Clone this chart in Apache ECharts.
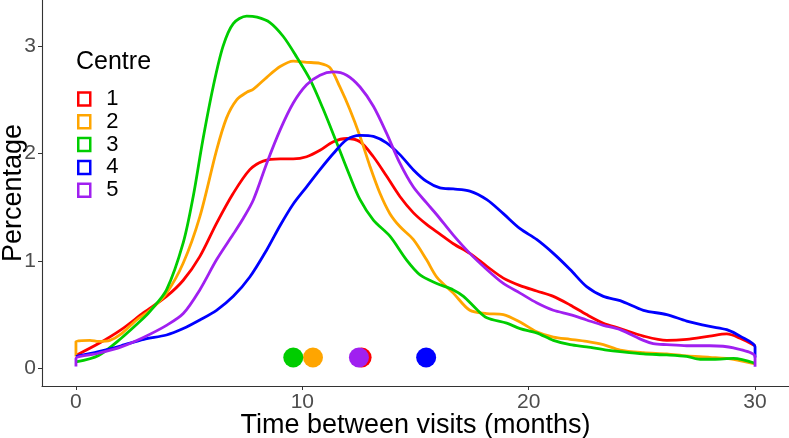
<!DOCTYPE html>
<html>
<head>
<meta charset="utf-8">
<script src="https://cdn.jsdelivr.net/npm/echarts@6.0.0/dist/echarts.min.js"></script>
<style>
html,body{margin:0;padding:0;background:#fff;}
#chart{width:789px;height:438px;}
</style>
</head>
<body>
<div id="chart"></div>
<script>
// ---- data ----
const centres = ['1', '2', '3', '4', '5'];
const colours = ['#FF0000', '#FFA500', '#00CD00', '#0000FF', '#A020F0'];

const x1 = [0, 1, 2, 3, 4, 4.74, 5.47, 6.21, 6.95, 7.68, 8.27, 9.02, 9.6, 10.19, 10.78, 11.37, 11.96, 12.55, 13.14, 13.72, 14.31, 14.9, 15.49, 16.08, 16.67, 17.4, 18.15, 18.88, 19.62, 20.35, 21.09, 21.83, 22.56, 23.3, 24.04, 25.07, 26.1, 26.98, 28.0, 28.75, 29.34, 30];
const y1 = [0.12, 0.23, 0.36, 0.52, 0.67, 0.82, 1.04, 1.35, 1.63, 1.85, 1.93, 1.95, 1.95, 1.97, 2.03, 2.11, 2.14, 2.11, 1.97, 1.79, 1.6, 1.45, 1.34, 1.25, 1.16, 1.07, 0.95, 0.84, 0.77, 0.72, 0.67, 0.59, 0.5, 0.42, 0.37, 0.3, 0.26, 0.27, 0.3, 0.32, 0.28, 0.21];

const x2 = [0, 0, 0.62, 1, 1.5, 2, 2.68, 3.27, 4, 4.74, 5.47, 6.21, 6.65, 7.1, 7.54, 7.84, 8.43, 9.02, 9.6, 10.19, 10.78, 11.22, 11.66, 12.1, 12.55, 12.99, 13.43, 13.87, 14.31, 14.9, 15.49, 15.94, 16.67, 17.4, 18.15, 18.88, 19.62, 20.35, 21.09, 21.83, 22.56, 23.3, 24.04, 25.07, 26.1, 26.98, 28.0, 29.05, 30];
const y2 = [0.11, 0.25, 0.26, 0.25, 0.26, 0.32, 0.45, 0.54, 0.7, 0.98, 1.41, 2.03, 2.33, 2.5, 2.57, 2.6, 2.71, 2.81, 2.86, 2.85, 2.84, 2.8, 2.62, 2.41, 2.16, 1.88, 1.63, 1.44, 1.32, 1.2, 1.01, 0.85, 0.7, 0.54, 0.51, 0.5, 0.43, 0.34, 0.29, 0.27, 0.25, 0.22, 0.17, 0.146, 0.134, 0.115, 0.102, 0.084, 0.04];

const x3 = [0, 1, 2, 3, 3.27, 4, 4.74, 5.18, 5.6, 6.06, 6.5, 6.95, 7.54, 8.0, 8.57, 9.16, 9.75, 10.34, 10.93, 11.52, 12.1, 12.55, 13.14, 13.87, 14.6, 15.2, 15.94, 16.67, 17.12, 17.7, 18.15, 19.03, 19.62, 20.35, 21.09, 21.83, 22.56, 23.45, 24.04, 25.07, 26.1, 26.98, 27.57, 28.16, 29.05, 30];
const y3 = [0.06, 0.12, 0.28, 0.47, 0.53, 0.73, 1.17, 1.6, 2.12, 2.62, 3.0, 3.21, 3.28, 3.27, 3.22, 3.09, 2.9, 2.69, 2.41, 2.1, 1.79, 1.57, 1.38, 1.23, 1.01, 0.87, 0.79, 0.73, 0.67, 0.55, 0.47, 0.42, 0.37, 0.33, 0.26, 0.22, 0.2, 0.17, 0.155, 0.134, 0.124, 0.11, 0.084, 0.084, 0.093, 0.047];

const x4 = [0, 1, 2, 3, 4, 4.74, 5.47, 6.21, 6.95, 7.68, 8.42, 9.02, 9.6, 10.19, 10.78, 11.37, 11.96, 12.55, 13.14, 13.72, 14.31, 14.9, 15.49, 16.08, 16.67, 17.4, 18.15, 18.88, 19.62, 20.35, 21.09, 21.83, 22.56, 23.3, 24.04, 25.07, 26.1, 26.98, 28.0, 28.75, 29.34, 30, 30];
const y4 = [0.11, 0.155, 0.21, 0.27, 0.31, 0.37, 0.45, 0.54, 0.67, 0.85, 1.1, 1.33, 1.53, 1.69, 1.85, 2.0, 2.13, 2.17, 2.16, 2.1, 1.99, 1.85, 1.74, 1.68, 1.67, 1.65, 1.57, 1.44, 1.3, 1.2, 1.07, 0.92, 0.76, 0.67, 0.63, 0.54, 0.5, 0.44, 0.39, 0.36, 0.3, 0.2, 0.1];

const x5 = [0, 0, 1, 2, 3, 4, 4.74, 5.47, 6.21, 6.95, 7.4, 7.84, 8.43, 9.02, 9.6, 10.19, 10.78, 11.37, 11.96, 12.55, 13.14, 13.72, 14.31, 14.9, 15.49, 15.94, 16.67, 17.4, 18.15, 18.88, 19.62, 20.35, 21.09, 21.83, 22.56, 23.3, 24.04, 25.07, 25.5, 26.1, 26.98, 28.0, 29.05, 30, 30];
const y5 = [0.016, 0.09, 0.14, 0.2, 0.29, 0.4, 0.51, 0.73, 1.01, 1.25, 1.4, 1.57, 1.91, 2.22, 2.47, 2.64, 2.73, 2.76, 2.73, 2.62, 2.44, 2.19, 1.91, 1.69, 1.54, 1.43, 1.24, 1.07, 0.92, 0.79, 0.7, 0.61, 0.54, 0.5, 0.45, 0.4, 0.36, 0.26, 0.23, 0.22, 0.21, 0.21, 0.19, 0.11, 0.015];

const meanX = [12.62, 10.47, 9.6, 15.47, 12.5];
const meanY = [0.1, 0.1, 0.1, 0.1, 0.1];

const xTicks = [0, 10, 20, 30];
const yTicks = [0, 1, 2, 3];

// ---- build ----
const xs = [x1, x2, x3, x4, x5];
const ys = [y1, y2, y3, y4, y5];
const FONT = '"Liberation Sans", Arial, sans-serif';

const lineSeries = centres.map((c, i) => ({
  name: c,
  type: 'line',
  data: xs[i].map((x, k) => [x, ys[i][k]]),
  smooth: 0.3,
  showSymbol: false,
  symbol: 'none',
  lineStyle: { color: colours[i], width: 2.8 },
  itemStyle: { color: colours[i] },
  z: 2 + i
}));

const meanSeries = {
  name: 'means',
  type: 'scatter',
  symbolSize: 20,
  data: meanX.map((x, i) => ({ value: [x, meanY[i]], itemStyle: { color: colours[i], opacity: 1 } })),
  z: 10,
  silent: true
};

const chart = echarts.init(document.getElementById('chart'), null, { renderer: 'canvas' });
chart.setOption({
  animation: false,
  backgroundColor: '#ffffff',
  textStyle: { fontFamily: FONT },
  title: {
    text: 'Centre',
    left: 76, top: 50, padding: 0,
    textStyle: { fontFamily: FONT, fontSize: 25, fontWeight: 'normal', color: '#000' }
  },
  legend: {
    data: centres.map((c, i) => ({
      name: c,
      icon: 'rect',
      itemStyle: { color: '#ffffff', borderColor: colours[i], borderWidth: 2.5 }
    })),
    orient: 'vertical',
    left: 77, top: 88,
    padding: 0,
    itemWidth: 12, itemHeight: 13,
    itemGap: 0.8,
    textStyle: { fontFamily: FONT, fontSize: 22, lineHeight: 18, color: '#000', padding: [0, 0, 0, 11] }
  },
  grid: { left: 42, right: 0, top: 0, bottom: 52, containLabel: false, outerBoundsMode: 'none' },
  xAxis: {
    type: 'value', min: -1.5, max: 31.5,
    name: 'Time between visits (months)',
    nameLocation: 'middle', nameGap: 26, nameMoveOverlap: false,
    nameTextStyle: { fontFamily: FONT, fontSize: 27, color: '#000' },
    axisLine: { show: true, onZero: false, lineStyle: { color: '#333', width: 1.1 } },
    axisTick: { show: true, length: 4, customValues: xTicks, lineStyle: { color: '#333' } },
    axisLabel: { customValues: xTicks, fontSize: 21, color: '#4D4D4D', margin: 6, fontFamily: FONT },
    splitLine: { show: false }
  },
  yAxis: {
    type: 'value', min: -0.165, max: 3.43,
    name: 'Percentage',
    nameLocation: 'middle', nameGap: 15, nameRotate: 90, nameMoveOverlap: false,
    nameTextStyle: { fontFamily: FONT, fontSize: 27, color: '#000' },
    axisLine: { show: true, onZero: false, lineStyle: { color: '#333', width: 1.1 } },
    axisTick: { show: true, length: 4, customValues: yTicks, lineStyle: { color: '#333' } },
    axisLabel: { customValues: yTicks, fontSize: 21, color: '#4D4D4D', margin: 6, fontFamily: FONT },
    splitLine: { show: false }
  },
  series: lineSeries.concat([meanSeries])
});
</script>
</body>
</html>
